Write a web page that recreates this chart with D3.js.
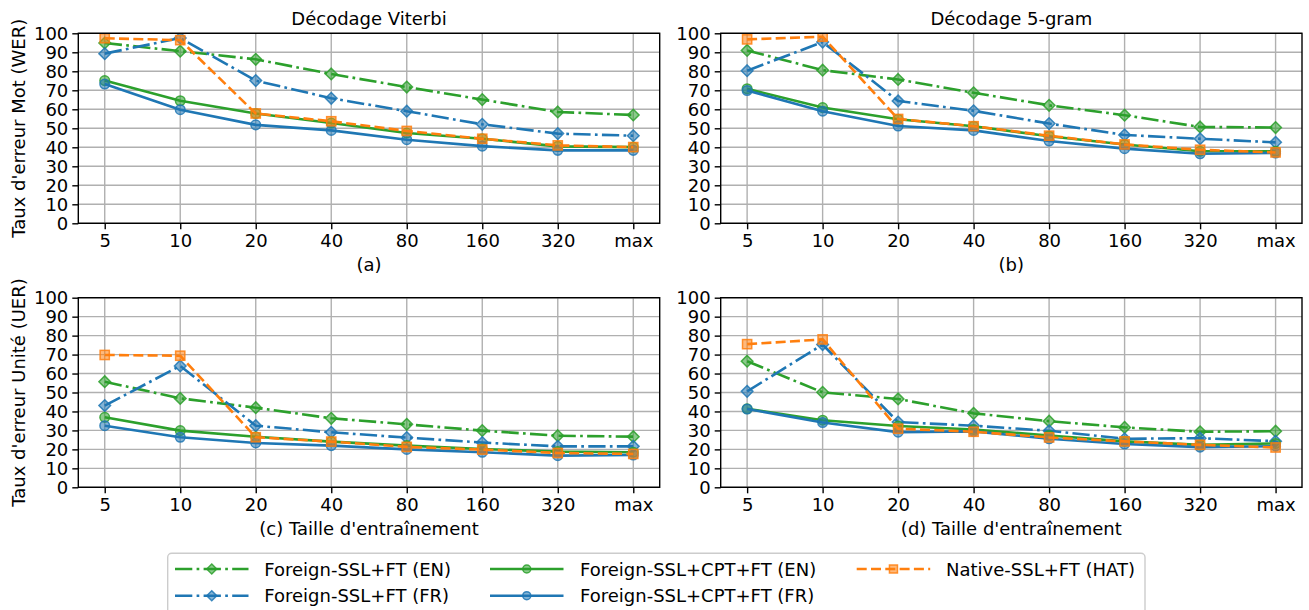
<!DOCTYPE html>
<html><head><meta charset="utf-8">
<script src="https://cdn.jsdelivr.net/npm/d3@7"></script>
<style>
body{margin:0;background:#fff;}
text{font-family:"DejaVu Sans",sans-serif;fill:#000;}
</style></head>
<body><svg id="chart" width="1309" height="610"></svg>
<script>
// ---------- data ----------
const categories = ["5","10","20","40","80","160","320","max"];
const yTickValues = [0,10,20,30,40,50,60,70,80,90,100];
const seriesNames = ["Foreign-SSL+FT (EN)","Foreign-SSL+FT (FR)","Foreign-SSL+CPT+FT (EN)","Foreign-SSL+CPT+FT (FR)","Native-SSL+FT (HAT)"];
const seriesColors = ["#2ca02c","#1f77b4","#2ca02c","#1f77b4","#ff7f0e"];
const seriesMarkers = ["diamond","diamond","circle","circle","square"];
const seriesDash = ["dashdot","dashdot","solid","solid","dashed"];

// (a) Viterbi decoding, WER
const viterbiWER_ftEN   = [94.9, 90.6, 86.3, 78.6, 71.7, 65.1, 58.6, 57.0];
const viterbiWER_ftFR   = [89.3, 97.5, 75.1, 65.8, 59.0, 52.1, 47.2, 46.1];
const viterbiWER_cptEN  = [75.1, 64.5, 57.8, 52.8, 47.5, 44.5, 40.5, 40.1];
const viterbiWER_cptFR  = [73.3, 59.8, 51.8, 48.9, 44.0, 40.6, 38.4, 38.4];
const viterbiWER_native = [97.4, 96.4, 57.8, 53.7, 48.6, 44.5, 41.0, 40.1];
// (b) 5-gram decoding, WER
const ngramWER_ftEN   = [91.0, 80.6, 75.7, 68.7, 62.1, 56.9, 50.7, 50.4];
const ngramWER_ftFR   = [80.3, 95.4, 64.4, 59.2, 52.5, 46.5, 44.5, 42.6];
const ngramWER_cptEN  = [70.8, 60.9, 54.8, 51.1, 45.8, 41.5, 37.9, 37.9];
const ngramWER_cptFR  = [69.9, 59.0, 51.2, 48.9, 43.3, 39.3, 36.6, 37.0];
const ngramWER_native = [96.8, 98.2, 54.9, 51.1, 46.1, 41.5, 38.7, 37.3];
// (c) Viterbi decoding, UER
const viterbiUER_ftEN   = [55.7, 46.9, 42.0, 36.4, 33.2, 29.9, 27.2, 26.7];
const viterbiUER_ftFR   = [43.1, 64.0, 32.5, 29.0, 26.2, 23.6, 21.6, 21.6];
const viterbiUER_cptEN  = [36.9, 29.9, 26.7, 24.1, 22.0, 20.2, 18.8, 18.5];
const viterbiUER_cptFR  = [32.5, 26.4, 23.4, 22.0, 20.0, 18.5, 16.7, 17.0];
const viterbiUER_native = [69.8, 69.4, 26.4, 24.1, 21.3, 19.9, 18.1, 17.6];
// (d) 5-gram decoding, UER
const ngramUER_ftEN   = [66.5, 50.1, 46.6, 39.0, 34.9, 31.6, 29.3, 29.6];
const ngramUER_ftFR   = [50.6, 75.3, 34.4, 32.5, 29.8, 25.6, 25.9, 24.3];
const ngramUER_cptEN  = [41.4, 35.4, 32.3, 30.5, 27.3, 24.2, 22.4, 23.1];
const ngramUER_cptFR  = [41.3, 34.2, 29.1, 29.5, 25.6, 22.8, 21.2, 21.7];
const ngramUER_native = [75.5, 78.0, 30.9, 29.3, 26.3, 24.2, 22.4, 21.0];

const panelTitles = ["Décodage Viterbi","Décodage 5-gram","",""];
const panelXLabels = ["(a)","(b)","(c) Taille d'entraînement","(d) Taille d'entraînement"];
const panelYLabels = ["Taux d'erreur Mot (WER)","","Taux d'erreur Unité (UER)",""];

// ---------- layout ----------
const panels = [
  {x0:78.3, x1:659.7, y0:33.3, y1:223.3, series:[viterbiWER_ftEN,viterbiWER_ftFR,viterbiWER_cptEN,viterbiWER_cptFR,viterbiWER_native]},
  {x0:720.7, x1:1302, y0:33.3, y1:223.3, series:[ngramWER_ftEN,ngramWER_ftFR,ngramWER_cptEN,ngramWER_cptFR,ngramWER_native]},
  {x0:78.3, x1:659.7, y0:297.7, y1:487.3, series:[viterbiUER_ftEN,viterbiUER_ftFR,viterbiUER_cptEN,viterbiUER_cptFR,viterbiUER_native]},
  {x0:720.7, x1:1302, y0:297.7, y1:487.3, series:[ngramUER_ftEN,ngramUER_ftFR,ngramUER_cptEN,ngramUER_cptFR,ngramUER_native]}
];

const FS = 18;
const LW = 2.6;
const dashArrays = {solid:null, dashed:"10,4.3", dashdot:"17.3,4.3,2.7,4.3"};
const gridColor = "#b0b0b0";

const svg = d3.select("#chart");
svg.append("rect").attr("width",1309).attr("height",610).attr("fill","#fff");

function drawMarker(g, type, cx, cy, s, color, fillOp){
  let el;
  if(type==="diamond"){
    el = g.append("path").attr("d",`M${cx},${cy-s}L${cx+s},${cy}L${cx},${cy+s}L${cx-s},${cy}Z`);
  } else if(type==="circle"){
    el = g.append("circle").attr("cx",cx).attr("cy",cy).attr("r",s);
  } else {
    el = g.append("rect").attr("x",cx-s).attr("y",cy-s).attr("width",2*s).attr("height",2*s);
  }
  el.attr("fill",color).attr("fill-opacity",fillOp).attr("stroke",color).attr("stroke-width",1.5).attr("stroke-opacity",0.85);
}
const markerSize = {diamond:5.8, circle:4.8, square:4.6};

panels.forEach((p,pi)=>{
  const x = d3.scalePoint().domain(categories).range([p.x0,p.x1]).padding(0.35);
  const y = d3.scaleLinear().domain([0,100]).range([p.y1,p.y0]);
  const g = svg.append("g");
  const clipId = "clip"+pi;
  svg.append("clipPath").attr("id",clipId).append("rect")
    .attr("x",p.x0).attr("y",p.y0).attr("width",p.x1-p.x0).attr("height",p.y1-p.y0);

  // grid
  const grid = g.append("g");
  categories.forEach(c=>{
    grid.append("line").attr("x1",x(c)).attr("x2",x(c)).attr("y1",p.y0).attr("y2",p.y1)
      .attr("stroke",gridColor).attr("stroke-width",1.4);
  });
  yTickValues.forEach(v=>{
    grid.append("line").attr("x1",p.x0).attr("x2",p.x1).attr("y1",y(v)).attr("y2",y(v))
      .attr("stroke",gridColor).attr("stroke-width",1.4);
  });

  // series
  const plot = g.append("g").attr("clip-path",`url(#${clipId})`);
  p.series.forEach((vals,si)=>{
    const line = d3.line().x((d,i)=>x(categories[i])).y(d=>y(d));
    const path = plot.append("path").datum(vals).attr("d",line)
      .attr("fill","none").attr("stroke",seriesColors[si]).attr("stroke-width",LW)
      .attr("stroke-linejoin","round");
    if(dashArrays[seriesDash[si]]) path.attr("stroke-dasharray",dashArrays[seriesDash[si]]);
    vals.forEach((v,i)=>{
      drawMarker(plot, seriesMarkers[si], x(categories[i]), y(v), markerSize[seriesMarkers[si]], seriesColors[si], 0.55);
    });
  });

  // spines
  g.append("rect").attr("x",p.x0).attr("y",p.y0).attr("width",p.x1-p.x0).attr("height",p.y1-p.y0)
    .attr("fill","none").attr("stroke","#000").attr("stroke-width",1.4);

  // axes
  const xa = g.append("g").attr("transform",`translate(0,${p.y1})`)
    .call(d3.axisBottom(x).tickSize(6).tickPadding(5));
  const ya = g.append("g").attr("transform",`translate(${p.x0},0)`)
    .call(d3.axisLeft(y).tickValues(yTickValues).tickSize(6).tickPadding(4));
  [xa,ya].forEach(a=>{
    a.select(".domain").remove();
    a.selectAll(".tick line").attr("stroke","#000").attr("stroke-width",1.4);
    a.selectAll(".tick text").attr("font-size",FS).attr("font-family","DejaVu Sans").attr("fill","#000");
  });

  const cx = (p.x0+p.x1)/2;
  if(panelTitles[pi]) svg.append("text").attr("x",cx).attr("y",p.y0-8.5).attr("text-anchor","middle")
    .attr("font-size",FS).text(panelTitles[pi]);
  svg.append("text").attr("x",cx).attr("y",p.y1+47.5).attr("text-anchor","middle")
    .attr("font-size",FS).text(panelXLabels[pi]);
  if(panelYLabels[pi]) svg.append("text")
    .attr("transform",`translate(25,${(p.y0+p.y1)/2}) rotate(-90)`).attr("text-anchor","middle")
    .attr("font-size",FS).text(panelYLabels[pi]);
});

// ---------- legend ----------
const leg = svg.append("g");
leg.append("rect").attr("x",167.7).attr("y",553.3).attr("width",977.3).attr("height",70).attr("rx",4)
  .attr("fill","#fff").attr("fill-opacity",0.8).attr("stroke","#cccccc").attr("stroke-width",1.4);
const colHandleX = [175, 490, 856.7];
const handleLen = 73.5;
const colTextX = [264.3, 580, 946];
const rowY = [569, 595.7];
const legendMarkerSize = {diamond:5, circle:4, square:4};
seriesNames.forEach((name,si)=>{
  const col = Math.floor(si/2), row = si%2;
  const hx = colHandleX[col], ry = rowY[row];
  const l = leg.append("line").attr("x1",hx).attr("x2",hx+handleLen).attr("y1",ry).attr("y2",ry)
    .attr("stroke",seriesColors[si]).attr("stroke-width",LW);
  if(dashArrays[seriesDash[si]]) l.attr("stroke-dasharray",dashArrays[seriesDash[si]]);
  drawMarker(leg, seriesMarkers[si], hx+handleLen/2, ry, legendMarkerSize[seriesMarkers[si]], seriesColors[si], 0.55);
  leg.append("text").attr("x",colTextX[col]).attr("y",ry+6.5).attr("font-size",FS).text(name);
});
</script></body></html>
